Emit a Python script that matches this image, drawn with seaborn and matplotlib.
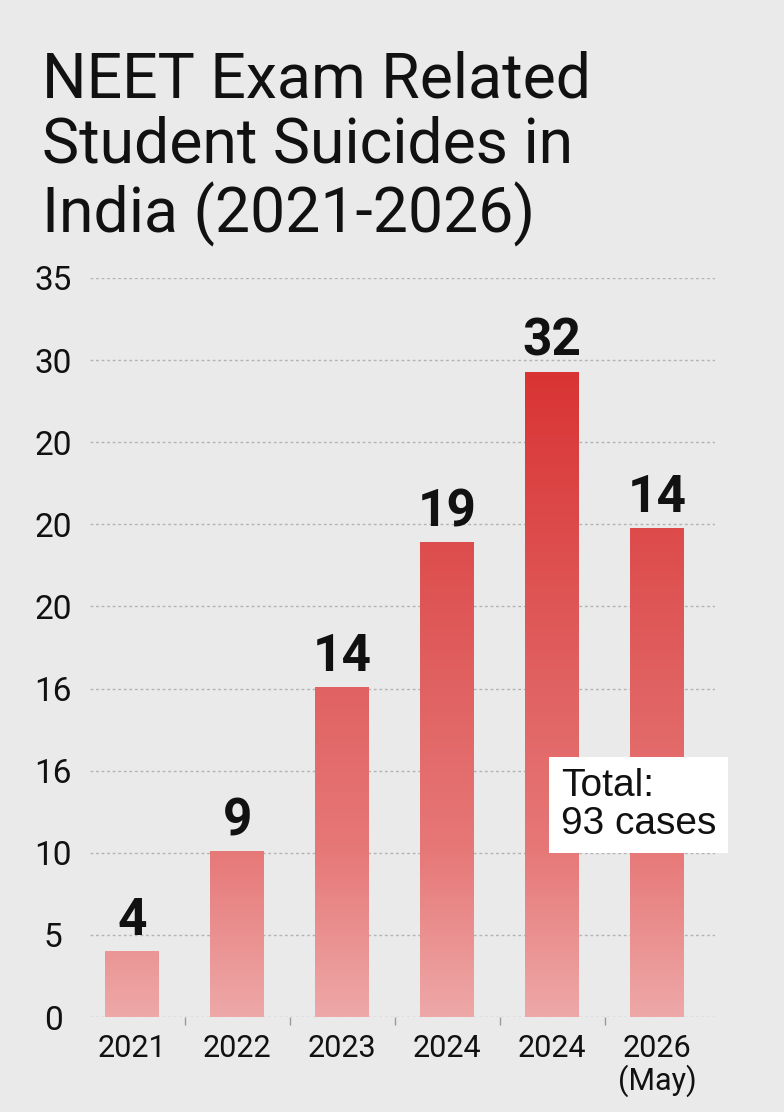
import numpy as np
import pandas as pd
import seaborn as sns
import matplotlib.pyplot as plt
from matplotlib.colors import LinearSegmentedColormap

years = ["2021", "2022", "2023", "2024", "2024", "2026\n(May)"]
bar_heights = [4.0, 10.1, 20.1, 28.9, 39.3, 29.8]
value_labels = ["4", "9", "14", "19", "32", "14"]
ytick_values = [0, 5, 10, 15, 20, 25, 30, 35, 40, 45]
ytick_labels = ["0", "5", "10", "16", "16", "20", "20", "20", "30", "35"]
title = "NEET Exam Related\nStudent Suicides in\nIndia (2021-2026)"
total_text = "Total:\n93 cases"

sns.set_theme(style="white")
plt.rcParams['font.family'] = ['Roboto', 'DejaVu Sans']

bg = '#eaeaea'
fig = plt.figure(figsize=(7.84, 11.12), dpi=100)
fig.patch.set_facecolor(bg)
ax = fig.add_axes([0.1148, 0.0854, 0.7972, 0.6646])
ax.set_facecolor(bg)

df = pd.DataFrame({"slot": range(len(years)), "value": bar_heights})
sns.barplot(data=df, x="slot", y="value", width=0.51, color="#e05555", ax=ax)

# vertical red gradient, same scale for every bar
cmap = LinearSegmentedColormap.from_list(
    "neet", ["#eea8a8", "#e77878", "#e16262", "#dd4a4a", "#d93232"])
grad = np.linspace(0, 1, 256).reshape(-1, 1)
for p in ax.patches:
    x0, w = p.get_x(), p.get_width()
    im = ax.imshow(grad, extent=[x0, x0 + w, 0, 40], origin='lower',
                   cmap=cmap, aspect='auto', zorder=3)
    im.set_clip_path(p)
    p.set_facecolor('none')
    p.set_edgecolor('none')

for i, (h, lab) in enumerate(zip(bar_heights, value_labels)):
    ax.annotate(lab, (i, h), xytext=(0, 11.5), textcoords='offset points',
                ha='center', va='baseline', fontsize=37, fontweight='bold',
                color='#111111', annotation_clip=False)

ax.set_xlim(-0.4, 5.55)
ax.set_ylim(0, 45)
ax.set_yticks(ytick_values)
ax.set_yticklabels(ytick_labels, ha='center')
ax.set_xticks(range(len(years)))
ax.set_xticklabels(years, linespacing=1.05)
ax.set_xticks(np.arange(0.5, len(years) - 1, 1), minor=True)
ax.tick_params(axis='y', length=0, pad=26.5, labelsize=24, colors='#111111')
ax.tick_params(axis='x', which='major', length=0, pad=12, labelsize=22,
               colors='#111111')
ax.tick_params(axis='x', which='minor', bottom=True, length=6, width=1,
               color='#9a9a9a', direction='out')
ax.set_xlabel("")
ax.set_ylabel("")
for s in ax.spines.values():
    s.set_visible(False)
ax.yaxis.grid(True, linestyle=(0, (2, 2)), color='#b3b3b3', lw=1)
ax.set_axisbelow(True)

fig.text(42 / 784, 1 - 50 / 1112, title, fontsize=45, ha='left', va='top',
         color='#111111', linespacing=1.12)

fig.text(561 / 784, 1 - 805 / 1112, total_text, fontsize=28, ha='left',
         va='center', color='#111111', linespacing=1.05,
         family=['Liberation Sans', 'DejaVu Sans'],
         bbox=dict(facecolor='white', edgecolor='none',
                   boxstyle='square,pad=0.3'))

fig.savefig("out.png", dpi=100, facecolor=bg)
